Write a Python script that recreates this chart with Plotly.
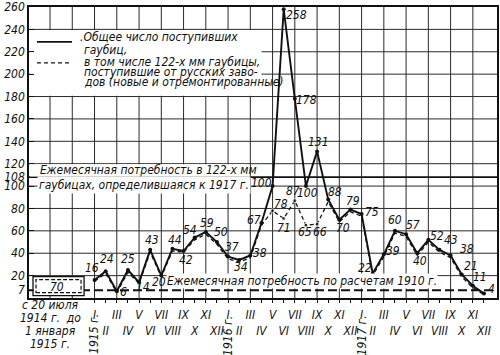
import plotly.graph_objects as go

# ---------------- data ----------------
MONTH_IDX = list(range(36))  # Jan 1915 .. Dec 1917
ROMAN = ["I", "II", "III", "IV", "V", "VI", "VII", "VIII", "IX", "X", "XI", "XII"]
TOTAL = [16, 24, 6, 25, 14, 43, 20, 44, 42, 54, 59, 50,
         37, 34, 38, 67, 100, 258, 178, 100, 131, 88, 70, 79,
         75, 22, 39, 60, 57, 40, 52, 43, 38, 21, 11, 4]
RUSSIAN = [15, 22, 5, 23, 13, 41, 19, 42, 41, 52, 57, 48,
           35, 32, 36, 65, 78, 71, 87, 65, 66, 86, 68, 77,
           73, 20, 37, 58, 55, 38, 50, 41, 36, 19, 9, 3]
RUSSIAN_LABELED = [16, 17, 18, 19, 20]
PRE_1915_TOTAL = 70
REQ_1917 = 108
REQ_1910 = 7
Y_TICKS = [7, 20, 40, 60, 80, 100, 108, 120, 140, 160, 180, 200, 220, 240, 260]
Y_GRID = list(range(20, 260, 20))
X_GRID = list(range(-4, 36, 2))
YEARS = ["1915 г.", "1916 г.", "1917 г."]

# label offsets (px) for value annotations
TOT_OFF = [(-3, 12), (1, 12), (7, -1), (0, 11), (4, -5), (2, 10), (-2, -6), (3, 9), (2, -9), (-5, 8), (1, 9), (4, 10),
           (4, 10), (2, -7), (10, 2), (-7, 3), (-11, 3), (13, -6), (12, -1), (2, -7), (1, 9), (7, 8), (4, -8), (3, 9),
           (10, 2), (-8, 5), (9, 3), (0, 11), (7, 9), (3, -8), (9, 4), (12, 10), (16, 6), (9, 9), (7, 9), (8, 5)]
RUS_OFF = {16: (8, 7), 17: (0, -9), 18: (-2, 10), 19: (-1, -7), 20: (3, -8)}

FONT = "Liberation Sans Narrow, DejaVu Sans Condensed, Liberation Sans, sans-serif"
INK = "#111111"
GRID = "#2a2a2a"
XR = [-5.89, 36.17]
YR = [0, 260]
FS = 12

fig = go.Figure()

fig.add_trace(go.Scatter(x=MONTH_IDX, y=RUSSIAN, mode="lines+markers",
                         line=dict(color=INK, width=1.3, dash="4px,3px"),
                         marker=dict(size=[4 if i in RUSSIAN_LABELED else 0 for i in MONTH_IDX], color=INK),
                         showlegend=False, hoverinfo="skip"))
fig.add_trace(go.Scatter(x=MONTH_IDX, y=TOTAL, mode="lines+markers",
                         line=dict(color=INK, width=1.9),
                         marker=dict(size=4, color=INK),
                         showlegend=False, hoverinfo="skip"))

shapes = []
for gx in X_GRID:
    shapes.append(dict(type="line", xref="x", yref="paper", x0=gx, x1=gx, y0=0, y1=1,
                       line=dict(color=GRID, width=1), layer="below"))
for gy in Y_GRID:
    shapes.append(dict(type="line", xref="paper", yref="y", x0=0, x1=1, y0=gy, y1=gy,
                       line=dict(color=GRID, width=1), layer="below"))
# legend mask
shapes.append(dict(type="rect", xref="x", yref="y", x0=XR[0] + 0.1, x1=15.0, y0=180.6, y1=239.4,
                   fillcolor="white", line=dict(width=0), layer="below"))
# requirement text mask (between 120 and 108)
shapes.append(dict(type="rect", xref="x", yref="y", x0=XR[0] + 0.1, x1=13.9, y0=108.5, y1=119.4,
                   fillcolor="white", line=dict(width=0), layer="below"))
# 1917 requirement line
shapes.append(dict(type="line", xref="paper", yref="y", x0=0, x1=1, y0=REQ_1917, y1=REQ_1917,
                   line=dict(color=INK, width=1.6), layer="below"))
# 1910 requirement line
shapes.append(dict(type="line", xref="paper", yref="y", x0=0, x1=1, y0=REQ_1910, y1=REQ_1910,
                   line=dict(color=INK, width=2, dash="9px,4px"), layer="below"))
# box for 1914 period
shapes.append(dict(type="rect", xref="x", yref="y", x0=-5.53, x1=-0.94, y0=2.1, y1=19.1,
                   fillcolor="white", line=dict(color=INK, width=1.3), layer="below"))
shapes.append(dict(type="rect", xref="x", yref="y", x0=-5.26, x1=-1.21, y0=4.8, y1=16.4,
                   fillcolor="white", line=dict(color=INK, width=1.2, dash="4px,2px"), layer="below"))
# legend samples
shapes.append(dict(type="line", xref="paper", yref="paper", x0=0.017, x1=0.092, y0=0.880, y1=0.880,
                   line=dict(color=INK, width=1.8)))
shapes.append(dict(type="line", xref="paper", yref="paper", x0=0.017, x1=0.092, y0=0.808, y1=0.808,
                   line=dict(color=INK, width=1.3, dash="4px,3px")))

ann = []
lf = dict(family=FONT, size=FS, color=INK, style="italic")
# reference-line captions first (so value labels sit on top of their white backgrounds)
ann.append(dict(x=0.019, y=0.440, xref="paper", yref="paper", text="Ежемесячная потребность в 122-х мм",
                showarrow=False, xanchor="left", yanchor="middle", font=lf))
ann.append(dict(x=0.017, y=0.388, xref="paper", yref="paper", text="гаубицах, определившаяся к 1917 г.",
                showarrow=False, xanchor="left", yanchor="middle", font=lf, bgcolor="white"))
ann.append(dict(x=0.583, y=0.058, xref="paper", yref="paper",
                text="Ежемесячная потребность по расчетам 1910 г.",
                showarrow=False, xanchor="center", yanchor="middle", font=lf, bgcolor="white", borderpad=0))

for i in MONTH_IDX:
    dx, dy = TOT_OFF[i]
    ann.append(dict(x=i, y=TOTAL[i], xref="x", yref="y", text=str(TOTAL[i]), showarrow=False,
                    xshift=dx, yshift=dy, font=lf))
for i in RUSSIAN_LABELED:
    dx, dy = RUS_OFF[i]
    ann.append(dict(x=i, y=RUSSIAN[i], xref="x", yref="y", text=str(RUSSIAN[i]), showarrow=False,
                    xshift=dx, yshift=dy, font=lf))
ann.append(dict(x=-3.4, y=10, xref="x", yref="y", text=str(PRE_1915_TOTAL), showarrow=False, font=lf))

# legend text
legend_lines = [(0.105, 0.897, ".Общее число поступивших"), (0.113, 0.852, "гаубиц,"),
                (0.113, 0.811, "в том числе 122-х мм гаубицы,"),
                (0.113, 0.777, "поступившие от русских заво-"),
                (0.113, 0.742, "дов (новые и отремонтированные)")]
for xx, yy, t in legend_lines:
    ann.append(dict(x=xx, y=yy, xref="paper", yref="paper", text=t, showarrow=False,
                    xanchor="left", yanchor="middle", font=lf))
# left period text
for k, t in enumerate(["с 20 июля", "1914 г.  до", "1 января", "1915 г."]):
    ann.append(dict(x=0.045, y=-0.025 - k * 0.0445, xref="paper", yref="paper", text=t, showarrow=False,
                    xanchor="center", yanchor="middle", font=lf))
# years
for k, t in enumerate(YEARS):
    ann.append(dict(x=12 * k, y=[-0.125, -0.13, -0.13][k], xref="x", yref="paper", text=t, showarrow=False,
                    textangle=-90, xanchor="center", yanchor="middle", font=lf))

ticktext = [("" if (i % 2 == 0) else "<br>") + ROMAN[i % 12] for i in MONTH_IDX]

fig.update_layout(
    width=500, height=355,
    margin=dict(l=29, r=3, t=7, b=57),
    paper_bgcolor="white", plot_bgcolor="white",
    font=dict(family=FONT, size=FS, color=INK),
    shapes=shapes, annotations=ann,
    xaxis=dict(range=XR, tickmode="array", tickvals=MONTH_IDX, ticktext=ticktext, tickangle=0,
               automargin=False, ticklabelstandoff=2,
               showgrid=False, zeroline=False, showline=True, linecolor=INK, linewidth=1.5, mirror=True,
               ticks="outside", ticklen=3, tickcolor=INK,
               tickfont=dict(family=FONT, size=FS, color=INK, style="italic")),
    yaxis=dict(range=YR, tickmode="array", tickvals=Y_TICKS, ticktext=[str(v) for v in Y_TICKS],
               automargin=False,
               showgrid=False, zeroline=False, showline=True, linecolor=INK, linewidth=1.5, mirror=True,
               ticks="inside", ticklen=5, tickcolor=INK,
               tickfont=dict(family=FONT, size=FS, color=INK, style="italic")),
)

# remove the browser's default 8px page margin so the 500x355 figure fills the window
fig.write_html("out.html", config={"displayModeBar": False},
               post_script="document.body.style.margin='0';")
